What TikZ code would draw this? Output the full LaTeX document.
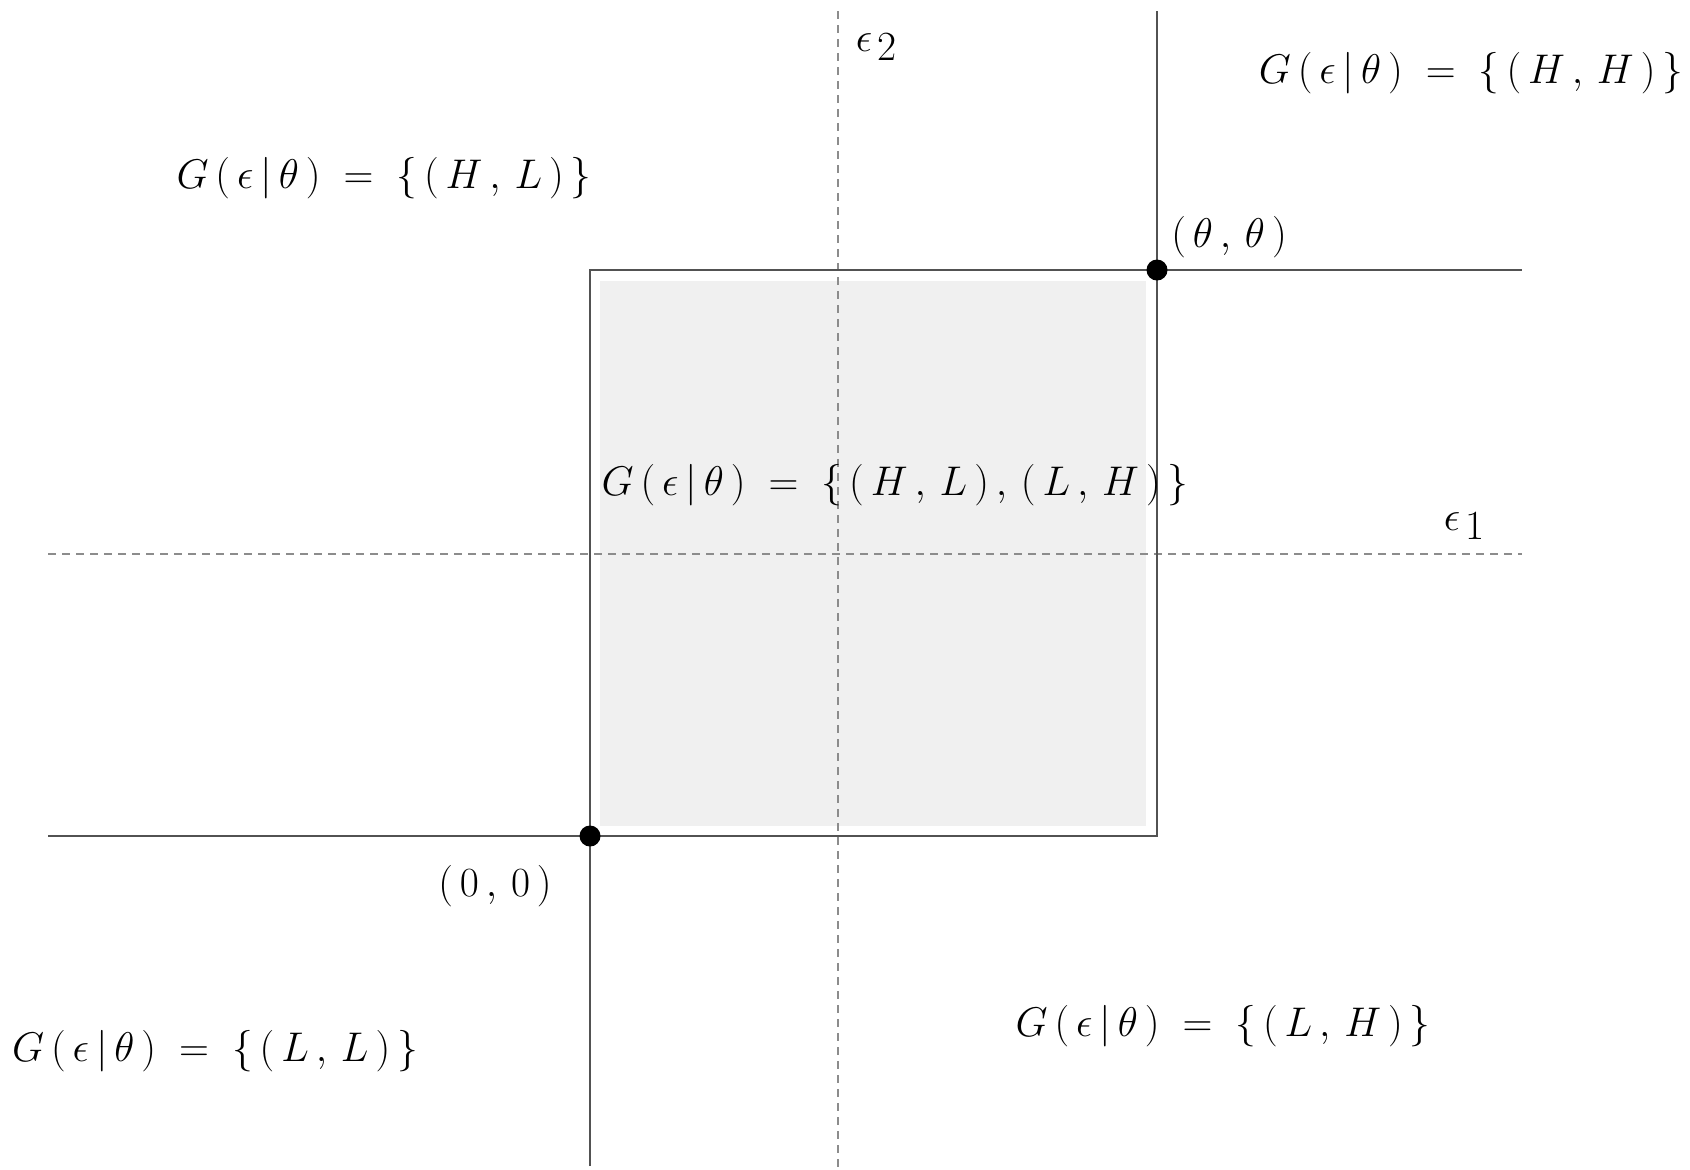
\documentclass[tikz,border=0pt]{standalone}
\newcommand{\gsp}{\mskip 3mu}
\newcommand{\geqsign}{\mskip 5mu=\mskip 5mu}
\newcommand{\epslab}[1]{\raisebox{0.22em}{$\epsilon$}\hspace{0.12em}$#1$}
\begin{document}
\begin{tikzpicture}[x=0.5pt,y=-0.5pt,
  solidline/.style={draw=black!68,line width=1.35pt},
  dashline/.style={draw=black!45,line width=1.4pt,dash pattern=on 4pt off 3pt},
  region/.style={fill=black!6,draw=none},
  dot/.style={circle,fill=black,inner sep=0pt,minimum size=10.5pt},
  lbl/.style={inner sep=0pt,font=\fontsize{19.5}{22}\selectfont}]
\useasboundingbox[fill=white] (0,0) rectangle (1690,1169);
% key coordinates
\coordinate (o) at (590,836);
\coordinate (t) at (1157,270);
\coordinate (tr) at (1522,270);
\coordinate (tt) at (1157,11);
\coordinate (bl) at (48,836);
\coordinate (bb) at (590,1166);
\coordinate (e2top) at (838,11);
\coordinate (e2bot) at (838,1169);
\coordinate (e1left) at (48,554);
\coordinate (e1right) at (1522,554);
% shaded region
\fill[region] (600,281) rectangle (1146,826);
% dashed axes
\draw[dashline] (e2top) -- (e2bot);
\draw[dashline] (e1left) -- (e1right);
% boundaries
\draw[solidline] (bb) -- (o) -- (o |- t) -- (t) -- (tr);
\draw[solidline] (bl) -- (o) -- (t |- o) -- (t) -- (tt);
% corner points
\node[dot] (p0) at (o) {};
\node[dot] (p1) at (t) {};
% labels
\node[lbl] (hl) at (384,178) {$G\gsp(\gsp\epsilon\gsp|\gsp\theta\gsp)\geqsign\{\gsp(\gsp H\gsp,\gsp L\gsp)\gsp\}$};
\node[lbl] (hh) at (1471,73) {$G\gsp(\gsp\epsilon\gsp|\gsp\theta\gsp)\geqsign\{\gsp(\gsp H\gsp,\gsp H\gsp)\gsp\}$};
\node[lbl] (mid) at (895,485) {$G\gsp(\gsp\epsilon\gsp|\gsp\theta\gsp)\geqsign\{\gsp(\gsp H\gsp,\gsp L\gsp)\gsp,\gsp(\gsp L\gsp,\gsp H\gsp)\gsp\}$};
\node[lbl] (ll) at (215,1051) {$G\gsp(\gsp\epsilon\gsp|\gsp\theta\gsp)\geqsign\{\gsp(\gsp L\gsp,\gsp L\gsp)\gsp\}$};
\node[lbl] (lh) at (1223,1026) {$G\gsp(\gsp\epsilon\gsp|\gsp\theta\gsp)\geqsign\{\gsp(\gsp L\gsp,\gsp H\gsp)\gsp\}$};
\node[lbl] (tt-l) at (1229,237) {$(\gsp\theta\gsp,\gsp\theta\gsp)$};
\node[lbl] (oo-l) at (495,886) {$(\gsp0\gsp,\gsp0\gsp)$};
\node[lbl] (e1) at (1464,526) {\epslab{1}};
\node[lbl] (e2) at (876,47) {\epslab{2}};
\end{tikzpicture}
\end{document}
